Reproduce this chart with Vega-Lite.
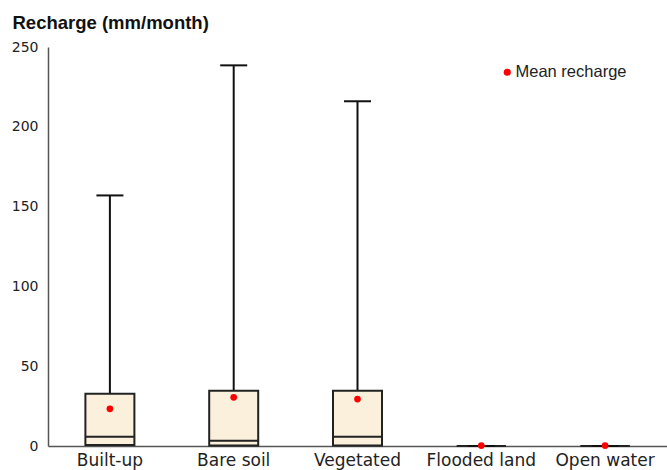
{
  "$schema": "https://vega.github.io/schema/vega-lite/v6.json",
  "width": 619,
  "height": 399,
  "autosize": {"type": "none"},
  "padding": {"left": 48, "top": 47, "right": 0, "bottom": 24},
  "background": "white",
  "config": {
    "view": {"stroke": null},
    "axis": {"labelFont": "DejaVu Sans", "labelColor": "#222", "domainColor": "#555", "domainWidth": 1.5, "ticks": false, "grid": false}
  },
  "data": {
    "values": [
      {"cat": "Built-up", "min": 0, "q1": 0.6, "median": 5.8, "q3": 32.8, "max": 157, "mean": 23.3, "series": "Mean recharge"},
      {"cat": "Bare soil", "min": 0, "q1": 0.3, "median": 3.3, "q3": 34.6, "max": 238.5, "mean": 30.5, "series": "Mean recharge"},
      {"cat": "Vegetated", "min": 0, "q1": 0.3, "median": 5.8, "q3": 34.6, "max": 216, "mean": 29.4, "series": "Mean recharge"},
      {"cat": "Flooded land", "min": 0, "q1": 0, "median": 0, "q3": 0, "max": 0, "mean": 0.3, "series": "Mean recharge"},
      {"cat": "Open water", "min": 0, "q1": 0, "median": 0, "q3": 0, "max": 0, "mean": 0.3, "series": "Mean recharge"}
    ]
  },
  "encoding": {
    "x": {
      "field": "cat", "type": "nominal", "sort": null,
      "scale": {"paddingInner": 0, "paddingOuter": 0},
      "axis": {"title": null, "labelAngle": 0, "labelFontSize": 17, "labelPadding": 6}
    }
  },
  "layer": [
    {
      "mark": {"type": "rule", "color": "#111", "strokeWidth": 2},
      "encoding": {
        "y": {
          "field": "q3", "type": "quantitative",
          "scale": {"domain": [0, 250], "nice": false},
          "axis": {
            "values": [0, 50, 100, 150, 200, 250],
            "labelFontSize": 14, "labelPadding": 10,
            "title": "Recharge (mm/month)", "titleAngle": 0, "titleAlign": "left",
            "titleBaseline": "alphabetic", "titleX": -36, "titleY": -19,
            "titleFont": "Liberation Sans", "titleFontSize": 18.5, "titleFontWeight": "bold", "titleColor": "#111"
          }
        },
        "y2": {"field": "max"}
      }
    },
    {
      "mark": {"type": "bar", "fill": "#faf0dc", "stroke": "#222", "strokeWidth": 2, "width": 49},
      "encoding": {
        "y": {"field": "q1", "type": "quantitative"},
        "y2": {"field": "q3"}
      }
    },
    {
      "mark": {"type": "tick", "color": "#222", "opacity": 1, "thickness": 2, "size": 49},
      "encoding": {"y": {"field": "median", "type": "quantitative"}}
    },
    {
      "mark": {"type": "tick", "color": "#111", "opacity": 1, "thickness": 2, "size": 27},
      "encoding": {"y": {"field": "max", "type": "quantitative"}}
    },
    {
      "mark": {"type": "point", "filled": true, "size": 45, "opacity": 1},
      "encoding": {
        "y": {"field": "mean", "type": "quantitative"},
        "color": {
          "field": "series", "type": "nominal",
          "scale": {"range": ["#ff0000"]},
          "legend": {
            "title": null, "orient": "none", "legendX": 451, "legendY": 17,
            "padding": 0, "symbolSize": 50, "symbolType": "circle", "symbolStrokeWidth": 0,
            "labelFont": "Liberation Sans", "labelFontSize": 16.5, "labelColor": "#222", "labelOffset": 0
          }
        }
      }
    }
  ]
}
